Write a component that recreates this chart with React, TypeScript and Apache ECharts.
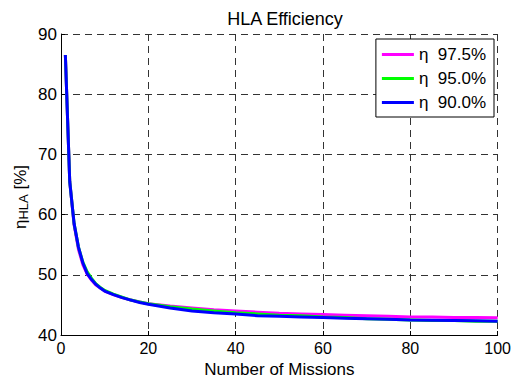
import React, { useEffect, useRef } from "react";
import * as echarts from "echarts";

const missions = [1, 2, 3, 4, 5, 6, 7, 8, 9, 10, 12, 14, 16, 18, 20, 25, 30, 35, 40, 45, 50, 55, 60, 65, 70, 75, 80, 85, 90, 95, 100];
const eta975 = [86.5, 65.5, 58.3, 54.2, 51.7, 50.1, 49.1, 48.3, 47.8, 47.3, 46.7, 46.2, 45.8, 45.5, 45.2, 44.8, 44.5, 44.2, 44.0, 43.8, 43.6, 43.5, 43.4, 43.3, 43.2, 43.1, 43.0, 43.0, 42.9, 42.9, 42.85];
const eta950 = [86.5, 65.5, 58.5, 54.6, 52.1, 50.5, 49.4, 48.5, 47.9, 47.4, 46.8, 46.3, 45.8, 45.5, 45.2, 44.7, 44.3, 44.0, 43.7, 43.5, 43.3, 43.2, 43.0, 42.9, 42.7, 42.6, 42.5, 42.4, 42.4, 42.3, 42.3];
const eta900 = [86.5, 65.5, 58.5, 54.6, 52.0, 50.2, 49.2, 48.4, 47.8, 47.3, 46.7, 46.2, 45.8, 45.4, 45.1, 44.5, 44.0, 43.7, 43.5, 43.2, 43.1, 43.0, 42.9, 42.8, 42.7, 42.6, 42.5, 42.45, 42.4, 42.35, 42.3];
const seriesNames = ["η  97.5%", "η  95.0%", "η  90.0%"];
const seriesColors = ["#ff00ff", "#00ff00", "#0000ff"];
const xTicks = [0, 20, 40, 60, 80, 100];
const yTicks = [40, 50, 60, 70, 80, 90];
const yAxisTitle = "{a|η}{b|HLA}{a| [%]}";

const FONT = "Liberation Sans, Arial, Helvetica, sans-serif";

export default function App() {
  const ref = useRef<HTMLDivElement>(null);
  useEffect(() => {
    if (!ref.current) return;
    const chart = echarts.init(ref.current, undefined, { renderer: "svg" });
    const all = [eta975, eta950, eta900];
    const gridLine = { show: true, lineStyle: { color: "#333", type: [7, 5] as any, width: 1 } };
    chart.setOption({
      animation: false,
      backgroundColor: "#fff",
      textStyle: { fontFamily: FONT },
      title: {
        text: "HLA Efficiency",
        left: 280,
        top: 5,
        textAlign: "center",
        textStyle: { fontFamily: FONT, fontSize: 18, fontWeight: "normal", color: "#000" },
      },
      grid: { left: 61, right: 14, top: 34, bottom: 45, containLabel: false },
      graphic: [
        {
          type: "text",
          x: 20,
          y: 197,
          rotation: Math.PI / 2,
          style: {
            text: yAxisTitle,
            align: "center",
            verticalAlign: "middle",
            fill: "#000",
            rich: {
              a: { fontFamily: FONT, fontSize: 17, fill: "#000" },
              b: { fontFamily: FONT, fontSize: 13, fill: "#000", verticalAlign: "bottom", padding: [7, 0, 0, 0] },
            },
          },
        },
      ],
      legend: {
        orient: "vertical",
        right: 20,
        top: 39,
        data: seriesNames,
        icon: "rect",
        itemWidth: 32,
        itemHeight: 3,
        itemGap: 7,
        padding: [7, 8, 6, 6],
        backgroundColor: "#fff",
        borderColor: "#000",
        borderWidth: 1,
        borderRadius: 0,
        textStyle: { fontFamily: FONT, fontSize: 17, color: "#000" },
      },
      xAxis: {
        type: "value",
        min: xTicks[0],
        max: xTicks[xTicks.length - 1],
        interval: 20,
        name: "Number of Missions",
        nameLocation: "middle",
        nameGap: 26,
        nameTextStyle: { fontFamily: FONT, fontSize: 17, color: "#000" },
        axisLine: { show: true, onZero: false, lineStyle: { color: "#000", width: 1 } },
        axisTick: { show: true, inside: true, length: 4, lineStyle: { color: "#000" } },
        axisLabel: { fontFamily: FONT, fontSize: 16, color: "#000", margin: 5 },
        splitLine: gridLine,
      },
      yAxis: {
        type: "value",
        min: yTicks[0],
        max: yTicks[yTicks.length - 1],
        interval: 10,
        axisLine: { show: true, lineStyle: { color: "#000", width: 1 } },
        axisTick: { show: true, inside: true, length: 4, lineStyle: { color: "#000" } },
        axisLabel: { fontFamily: FONT, fontSize: 17, color: "#000", margin: 4 },
        splitLine: gridLine,
      },
      series: seriesNames.map((name, i) => ({
        name,
        type: "line",
        symbol: "none",
        smooth: false,
        color: seriesColors[i],
        lineStyle: { width: 3, color: seriesColors[i] },
        data: missions.map((m, j) => [m, all[i][j]]),
        z: 3 + i,
      })),
    });
    return () => chart.dispose();
  }, []);
  return <div ref={ref} style={{ position: "absolute", left: 0, top: 0, width: 514, height: 383 }} />;
}
